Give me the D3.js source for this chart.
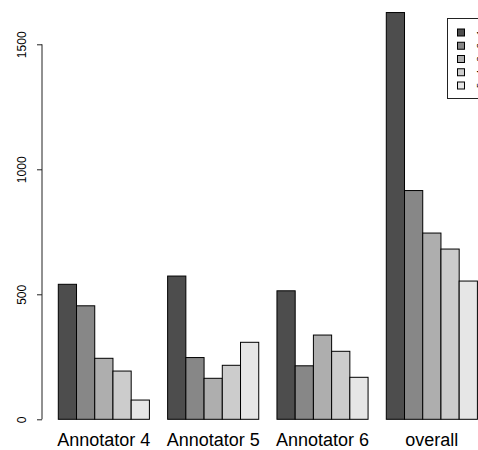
<!DOCTYPE html>
<html>
<head>
<meta charset="utf-8">
<script src="https://cdn.jsdelivr.net/npm/d3@7"></script>
<style>
  body { margin: 0; background: #fff; }
  svg { display: block; font-family: "Liberation Sans", Arial, sans-serif; }
</style>
</head>
<body>
<svg id="chart" width="478" height="450"></svg>
<script>
// data
var groups = ["Annotator 4", "Annotator 5", "Annotator 6", "overall"];
var series = ["1", "2", "3", "4", "5"];
var counts1 = [540, 573, 514, 1627];
var counts2 = [454, 247, 214, 915];
var counts3 = [244, 164, 337, 745];
var counts4 = [193, 216, 272, 681];
var counts5 = [77, 308, 168, 553];
var yTicks = [0, 500, 1000, 1500];
var colors = ["#4D4D4D", "#878787", "#AEAEAE", "#CCCCCC", "#E6E6E6"];

var allCounts = [counts1, counts2, counts3, counts4, counts5];

var svg = d3.select("#chart");

var y = d3.scaleLinear().domain([0, 1500]).range([419.3, 44.3]);

var x0 = d3.scaleBand()
  .domain(groups)
  .range([58.3, 477.4])
  .paddingInner(1 / 6)
  .paddingOuter(0);

var x1 = d3.scaleBand()
  .domain(series)
  .range([0, x0.bandwidth()])
  .padding(0);

// bars
var g = svg.selectAll(".grp")
  .data(groups)
  .enter()
  .append("g")
  .attr("class", "grp")
  .attr("transform", function (d) { return "translate(" + x0(d) + ",0)"; });

g.selectAll("rect")
  .data(function (d, i) {
    return series.map(function (s, j) { return { s: s, v: allCounts[j][i], c: colors[j] }; });
  })
  .enter()
  .append("rect")
  .attr("x", function (d) { return x1(d.s); })
  .attr("y", function (d) { return y(d.v); })
  .attr("width", x1.bandwidth())
  .attr("height", function (d) { return y(0) - y(d.v); })
  .attr("fill", function (d) { return d.c; })
  .attr("stroke", "#000")
  .attr("stroke-width", 1);

// group labels
svg.selectAll(".glab")
  .data(groups)
  .enter()
  .append("text")
  .attr("class", "glab")
  .attr("x", function (d) { return x0(d) + x0.bandwidth() / 2; })
  .attr("y", 446)
  .attr("text-anchor", "middle")
  .attr("font-size", "18px")
  .attr("fill", "#000")
  .text(function (d) { return d; });

// y axis (R style)
var yAxis = d3.axisLeft(y).tickValues(yTicks).tickSize(5).tickFormat(d3.format("d"));
var gy = svg.append("g")
  .attr("transform", "translate(42,0)")
  .call(yAxis);
gy.select(".domain").attr("d", "M0," + y(1500) + "V" + y(0)).attr("stroke", "#222");
gy.selectAll(".tick line").attr("stroke", "#222");
gy.selectAll(".tick text")
  .attr("font-size", "12px")
  .attr("font-family", "Liberation Sans, Arial, sans-serif")
  .attr("fill", "#000")
  .attr("text-anchor", "middle")
  .attr("x", 0)
  .attr("y", 0)
  .attr("dy", 0)
  .attr("transform", "translate(-16,0) rotate(-90)");

// legend (clipped by the right edge, as in the picture)
var leg = svg.append("g");
leg.append("rect")
  .attr("x", 447.5)
  .attr("y", 18.5)
  .attr("width", 60)
  .attr("height", 80)
  .attr("fill", "#fff")
  .attr("stroke", "#222");

var ly = d3.scalePoint().domain(series).range([32.5, 85.5]);

leg.selectAll(".key")
  .data(series)
  .enter()
  .append("rect")
  .attr("class", "key")
  .attr("x", 457.5)
  .attr("y", function (d) { return ly(d) - 3.5; })
  .attr("width", 7)
  .attr("height", 7)
  .attr("fill", function (d, i) { return colors[i]; })
  .attr("stroke", "#000");

leg.selectAll(".ltxt")
  .data(series)
  .enter()
  .append("text")
  .attr("class", "ltxt")
  .attr("font-size", "9px")
  .attr("text-anchor", "middle")
  .attr("transform", function (d) { return "translate(483," + ly(d) + ") rotate(-90)"; })
  .text(function (d) { return d; });
</script>
</body>
</html>
